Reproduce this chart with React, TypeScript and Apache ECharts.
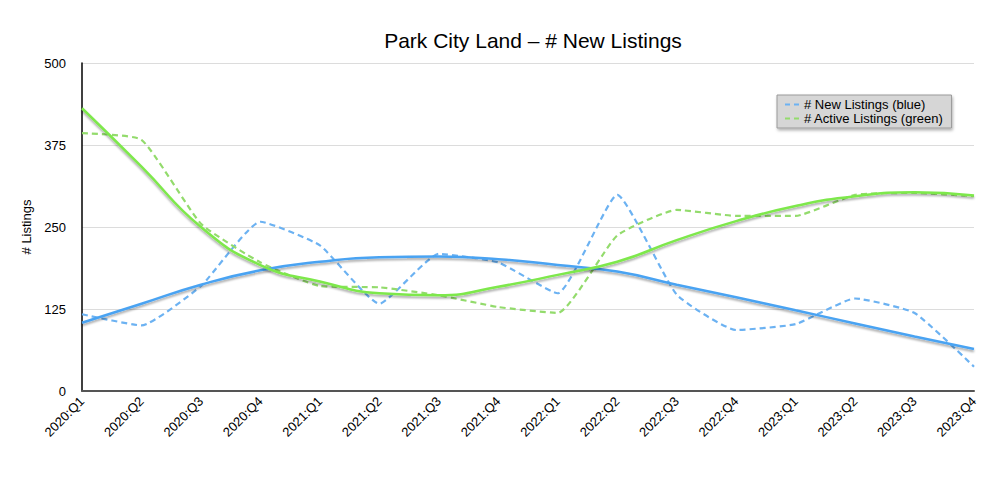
import React, { useEffect, useRef } from "react";
import * as echarts from "echarts";

const categories = [
  "2020:Q1", "2020:Q2", "2020:Q3", "2020:Q4",
  "2021:Q1", "2021:Q2", "2021:Q3", "2021:Q4",
  "2022:Q1", "2022:Q2", "2022:Q3", "2022:Q4",
  "2023:Q1", "2023:Q2", "2023:Q3", "2023:Q4",
];

const newListings = [117, 100, 160, 258, 222, 133, 209, 196, 149, 299, 147, 93, 102, 141, 119, 37];
const activeListings = [393, 383, 255, 196, 160, 158, 146, 128, 119, 237, 276, 267, 267, 299, 302, 297];

const newTrend = [104, 133, 162, 184, 197, 204, 205, 201, 192, 182, 162, 143, 123, 103, 83, 64];
const activeTrend = [431, 342, 250, 192, 167, 149, 146, 159, 177, 197, 230, 259, 282, 297, 303, 298];

const yTicks = [0, 125, 250, 375, 500];

const BLUE = "#4aa3f2";
const GREEN = "#7ee84c";
const BLUE_D = "#6cb2f2";
const GREEN_D = "#93db6c";
const FONT = "'Liberation Sans', Arial, Helvetica, sans-serif";

export default function App() {
  const ref = useRef<HTMLDivElement>(null);
  useEffect(() => {
    const chart = echarts.init(ref.current!, null, { renderer: "svg" });
    const shadow = {
      shadowColor: "rgba(0,0,0,0.35)",
      shadowBlur: 2,
      shadowOffsetX: 0,
      shadowOffsetY: 2,
    };
    chart.setOption({
      animation: false,
      backgroundColor: "#ffffff",
      textStyle: { fontFamily: FONT },
      title: {
        text: "Park City Land \u2013 # New Listings",
        left: 528,
        textAlign: "center",
        top: 25,
        textStyle: { fontFamily: FONT, fontSize: 21, fontWeight: "normal", color: "#000" },
      },
      legend: {
        orient: "vertical",
        left: 777,
        top: 95,
        padding: [3, 8, 3, 8],
        itemGap: 1,
        itemWidth: 14,
        itemHeight: 3,
        backgroundColor: "#d6d6d6",
        borderColor: "#9a9a9a",
        borderWidth: 1,
        shadowColor: "rgba(0,0,0,0.3)",
        shadowBlur: 3,
        shadowOffsetX: 1,
        shadowOffsetY: 2,
        data: [
          { name: "# New Listings (blue)", icon: "path://M0,0h5v2h-5z M9,0h5v2h-5z", itemStyle: { color: BLUE_D } },
          { name: "# Active Listings (green)", icon: "path://M0,0h5v2h-5z M9,0h5v2h-5z", itemStyle: { color: GREEN_D } },
        ],
        textStyle: { fontFamily: FONT, fontSize: 13, color: "#000", padding: [0, 0, 0, 0] },
      },
      grid: { left: 82, right: 26, top: 63, bottom: 86, containLabel: false },
      xAxis: {
        type: "category",
        data: categories,
        boundaryGap: false,
        axisLine: { show: true, lineStyle: { color: "#555", width: 2 } },
        axisTick: { show: false },
        axisLabel: {
          rotate: 45,
          interval: 0,
          fontFamily: FONT,
          fontSize: 13,
          color: "#000",
          margin: 8,
        },
        splitLine: { show: false },
      },
      yAxis: {
        type: "value",
        min: yTicks[0],
        max: yTicks[yTicks.length - 1],
        interval: 125,
        name: "# Listings",
        nameLocation: "middle",
        nameGap: 46,
        nameRotate: 90,
        nameTextStyle: { fontFamily: FONT, fontSize: 13, color: "#000" },
        axisLine: { show: true, lineStyle: { color: "#000", width: 1.5 } },
        axisTick: { show: false },
        axisLabel: { fontFamily: FONT, fontSize: 13, color: "#000", margin: 16 },
        splitLine: { show: true, lineStyle: { color: "#dcdcdc", width: 1 } },
      },
      series: [
        {
          name: "# New Listings (blue)",
          type: "line",
          data: newListings,
          smooth: 0.15,
          symbol: "none",
          lineStyle: { color: BLUE_D, width: 2.2, type: [6, 4] },
          itemStyle: { color: BLUE_D },
          z: 3,
        },
        {
          name: "# Active Listings (green)",
          type: "line",
          data: activeListings,
          smooth: 0.15,
          symbol: "none",
          lineStyle: { color: GREEN_D, width: 2.2, type: [6, 4] },
          itemStyle: { color: GREEN_D },
          z: 3,
        },
        {
          name: "New trend",
          type: "line",
          data: newTrend,
          smooth: true,
          symbol: "none",
          lineStyle: { color: BLUE, width: 2.5, ...shadow },
          itemStyle: { color: BLUE },
          z: 4,
        },
        {
          name: "Active trend",
          type: "line",
          data: activeTrend,
          smooth: true,
          symbol: "none",
          lineStyle: { color: GREEN, width: 2.5, ...shadow },
          itemStyle: { color: GREEN },
          z: 4,
        },
      ],
    });
    return () => chart.dispose();
  }, []);
  return <div ref={ref} style={{ width: 1000, height: 477, position: "absolute", left: 0, top: 0 }} />;
}
